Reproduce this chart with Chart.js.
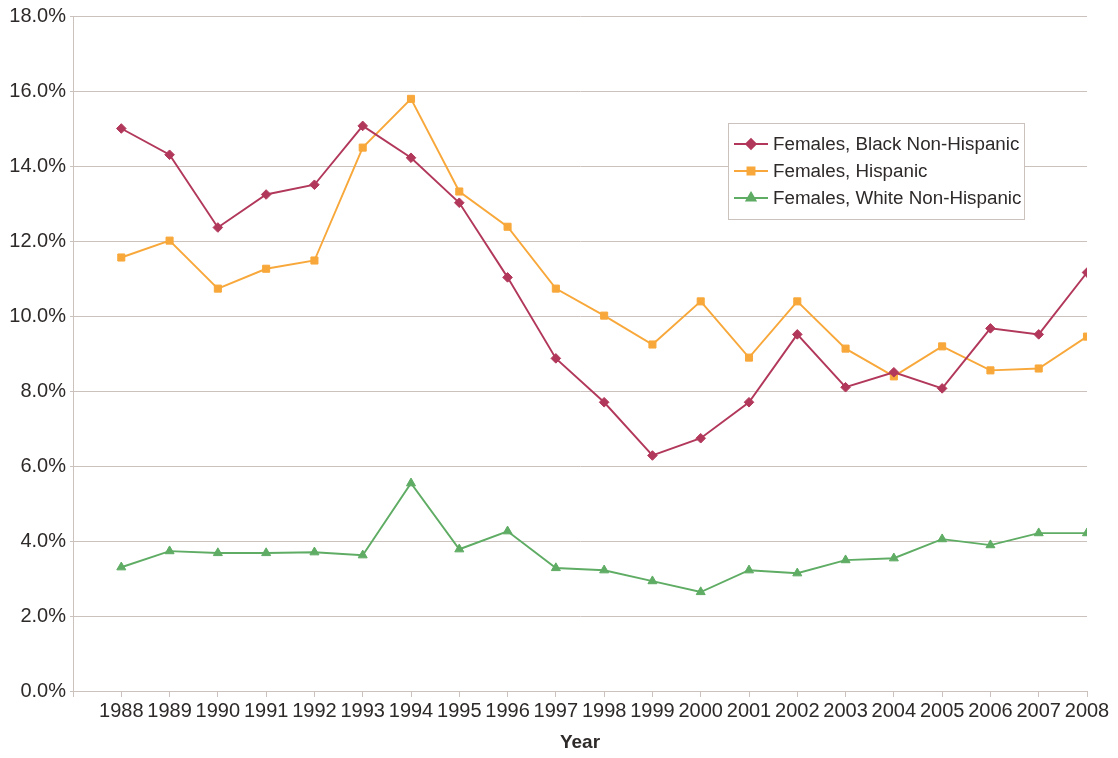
<!DOCTYPE html>
<html>
<head>
<meta charset="utf-8">
<script src="https://cdn.jsdelivr.net/npm/chart.js@4"></script>
<style>
  html, body { margin:0; padding:0; background:#fff; }
  #wrap { width:1118px; height:758px; position:relative; }
</style>
</head>
<body>
<div id="wrap"><canvas id="c" width="1118" height="758"></canvas></div>
<script>
// line chart: female rates by group, 1988-2008
const years = [1988,1989,1990,1991,1992,1993,1994,1995,1996,1997,1998,1999,2000,2001,2002,2003,2004,2005,2006,2007,2008];
const blackNH = [15.0,14.3,12.36,13.24,13.5,15.07,14.22,13.02,11.03,8.87,7.7,6.28,6.74,7.7,9.51,8.1,8.5,8.07,9.67,9.51,11.16];
const hispanic = [11.56,12.01,10.73,11.26,11.48,14.49,15.79,13.32,12.38,10.73,10.01,9.24,10.39,8.89,10.39,9.13,8.39,9.19,8.55,8.6,9.45];
const whiteNH = [3.3,3.73,3.68,3.68,3.7,3.62,5.54,3.78,4.26,3.28,3.22,2.93,2.64,3.22,3.14,3.49,3.54,4.05,3.89,4.21,4.21];
const seriesNames = ['Females, Black Non-Hispanic','Females, Hispanic','Females, White Non-Hispanic'];
const yTicks = [0,2,4,6,8,10,12,14,16,18];

const FONT = '"Liberation Sans", Arial, sans-serif';
const TXT = '#2e2a29';
const GRID = '#cbc2be';

function pts(vals){ return years.map((y,i)=>({x:y, y:vals[i]})); }

function ds(label, vals, color, style, r){
  return { label, data: pts(vals), borderColor: color, backgroundColor: color,
    borderWidth: 1.9, pointStyle: style, pointRadius: r, pointBorderWidth: 1,
    pointBorderColor: color, pointBackgroundColor: color, tension: 0 };
}

// legend box drawn inside the plot
const legendBox = {
  id: 'legendBox',
  afterDraw(chart){
    const ctx = chart.ctx;
    const x = 728, y = 123, w = 296, h = 96;
    ctx.save();
    ctx.fillStyle = '#fff';
    ctx.fillRect(x, y, w, h);
    ctx.strokeStyle = GRID; ctx.lineWidth = 1;
    ctx.strokeRect(x+0.5, y+0.5, w, h);
    ctx.font = '18.8px ' + FONT;
    ctx.textBaseline = 'middle';
    chart.data.datasets.forEach((d, i) => {
      const cy = y + 21 + i*27;
      ctx.strokeStyle = d.borderColor; ctx.lineWidth = 1.9;
      ctx.beginPath(); ctx.moveTo(x+6, cy); ctx.lineTo(x+40, cy); ctx.stroke();
      Chart.helpers.drawPoint(ctx, {pointStyle: d.pointStyle, radius: d.pointRadius, borderWidth: 1}, x+23, cy);
      ctx.fillStyle = d.borderColor;
      ctx.fill();
      ctx.fillStyle = TXT;
      ctx.fillText(d.label, x+45, cy+1);
    });
    ctx.restore();
  }
};

new Chart(document.getElementById('c'), {
  type: 'line',
  data: { datasets: [
    ds(seriesNames[0], blackNH, '#b2385b', 'rectRot', 4.8),
    ds(seriesNames[1], hispanic, '#f8a83a', 'rect', 5),
    ds(seriesNames[2], whiteNH, '#5fac64', 'triangle', 5.2)
  ]},
  options: {
    responsive: false, animation: false, devicePixelRatio: 1,
    layout: { padding: { top: 15, right: 31, left: 0, bottom: 0 } },
    plugins: { legend: { display: false }, tooltip: { enabled: false } },
    scales: {
      x: {
        type: 'linear', min: 1987, max: 2008,
        afterFit(s){ s.height = 67; },
        afterBuildTicks(s){ s.ticks = []; for (let v = 1987; v <= 2008; v++) s.ticks.push({value: v}); },
        ticks: { autoSkip: false, maxRotation: 0, padding: 2, color: TXT,
          font: { family: FONT, size: 20 },
          callback: v => v === 1987 ? '' : String(v) },
        grid: { drawOnChartArea: false, drawTicks: true, tickLength: 6, color: GRID },
        border: { color: GRID },
        title: { display: true, text: 'Year', color: TXT, font: { family: FONT, size: 19, weight: 'bold' }, padding: { top: 0, bottom: 4 } }
      },
      y: {
        min: 0, max: 18,
        afterFit(s){ s.width = 73; },
        afterBuildTicks(s){ s.ticks = yTicks.map(v => ({value: v})); },
        ticks: { padding: 4, color: TXT, font: { family: FONT, size: 20 },
          callback: v => v.toFixed(1) + '%' },
        grid: { color: GRID, tickLength: 3 },
        border: { color: GRID }
      }
    }
  },
  plugins: [legendBox]
});
</script>
</body>
</html>
